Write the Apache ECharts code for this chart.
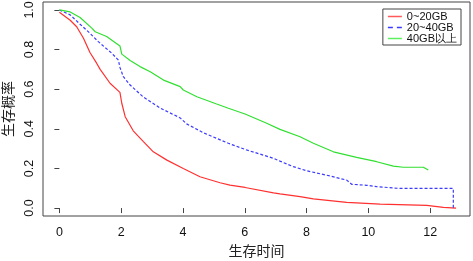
<!DOCTYPE html>
<html>
<head>
<meta charset="utf-8">
<script src="https://cdn.jsdelivr.net/npm/echarts@6/dist/echarts.min.js"></script>
<style>
  html, body { margin: 0; padding: 0; background: #fff; }
  #chart { width: 473px; height: 261px; }
</style>
</head>
<body>
<div id="chart"></div>
<script>
// 生存曲线数据
const seriesNames = ['0~20GB', '20~40GB', '40GB以上']

const redX = [0, 0.35, 0.56, 0.78, 0.99, 1.21, 1.32, 1.64, 1.96, 2.02, 2.13, 2.39, 2.72, 3.04, 3.48, 4.01, 4.55, 5.2, 5.52, 6.01, 6.93, 7.14, 7.79, 8.22, 9.30, 10.38, 11.89, 12.43, 12.84]
const redY = [0.988, 0.948, 0.915, 0.857, 0.785, 0.73, 0.70, 0.63, 0.584, 0.529, 0.461, 0.39, 0.335, 0.284, 0.242, 0.20, 0.158, 0.128, 0.116, 0.104, 0.077, 0.072, 0.058, 0.046, 0.029, 0.02, 0.014, 0.004, 0.0]

const blueX = [0, 0.35, 0.67, 0.99, 1.26, 1.70, 1.91, 1.96, 2.07, 2.29, 2.72, 3.26, 3.91, 4.12, 4.66, 5.47, 6.01, 6.93, 7.14, 7.57, 8.01, 8.76, 9.30, 9.46, 9.95, 10.27, 11.03, 12.75, 12.75]
const blueY = [1.0, 0.975, 0.928, 0.882, 0.84, 0.781, 0.747, 0.71, 0.663, 0.621, 0.56, 0.505, 0.455, 0.425, 0.38, 0.327, 0.296, 0.251, 0.237, 0.209, 0.188, 0.162, 0.141, 0.12, 0.115, 0.108, 0.099, 0.099, 0.0]

const greenX = [0, 0.35, 0.67, 1.05, 1.16, 1.53, 1.96, 2.02, 2.29, 2.61, 2.94, 3.37, 3.91, 4.01, 4.45, 5.09, 5.47, 6.01, 6.71, 7.14, 7.79, 8.22, 8.87, 9.62, 10.27, 10.81, 11.13, 11.78, 11.94]
const greenY = [1.0, 0.99, 0.962, 0.908, 0.89, 0.866, 0.818, 0.777, 0.745, 0.714, 0.688, 0.646, 0.613, 0.596, 0.562, 0.525, 0.504, 0.475, 0.428, 0.397, 0.36, 0.327, 0.284, 0.256, 0.234, 0.212, 0.206, 0.206, 0.192]

const xTicks = [0, 2, 4, 6, 8, 10, 12]
const yTicks = [0, 0.2, 0.4, 0.6, 0.8, 1.0]

const zip = (xs, ys) => xs.map((x, i) => [x, ys[i]])

const chart = echarts.init(document.getElementById('chart'), null, { renderer: 'canvas' })

const axisColor = '#444'
const numFont = 'Liberation Sans, Arial, sans-serif'
const cjkFont = 'Noto Sans CJK SC, sans-serif'

// 图例线段图标
const solidIcon = 'path://M0,0h14v1.5h-14z'
const dashIcon = 'path://M0,0h5v1.5h-5zM9,0h5v1.5h-5z'

const option = {
  animation: false,
  backgroundColor: '#fff',
  grid: {
    left: 43,
    right: 3,
    top: 2,
    bottom: 45,
    outerBoundsMode: 'none',
    containLabel: false,
    show: true,
    borderColor: axisColor,
    borderWidth: 1
  },
  legend: {
    data: [
      { name: seriesNames[0], icon: solidIcon, itemStyle: { color: '#ff5a5a' } },
      { name: seriesNames[1], icon: dashIcon, itemStyle: { color: '#3b3bff' } },
      { name: seriesNames[2], icon: solidIcon, itemStyle: { color: '#5ef05e' } }
    ],
    orient: 'vertical',
    right: 12,
    top: 9,
    padding: [2, 4, 1, 5],
    itemGap: 0,
    itemWidth: 14,
    itemHeight: 1.5,
    borderColor: axisColor,
    borderWidth: 1,
    borderRadius: 0,
    textStyle: {
      fontFamily: numFont,
      fontSize: 11,
      lineHeight: 11,
      color: '#111'
    }
  },
  xAxis: {
    type: 'value',
    min: -0.53,
    max: 13.29,
    name: '生存时间',
    nameLocation: 'middle',
    nameGap: 27,
    nameTextStyle: { fontFamily: cjkFont, fontSize: 14, color: '#222' },
    axisLine: { show: false },
    axisTick: { show: true, inside: false, length: 5, customValues: xTicks, lineStyle: { color: axisColor } },
    axisLabel: { customValues: xTicks, margin: 10, fontFamily: numFont, fontSize: 12.5, color: '#111' },
    splitLine: { show: false }
  },
  yAxis: {
    type: 'value',
    min: -0.04,
    max: 1.04,
    name: '生存概率',
    nameLocation: 'middle',
    nameGap: 28,
    nameTextStyle: { fontFamily: cjkFont, fontSize: 14, color: '#222' },
    axisLine: { show: false },
    axisTick: { show: true, inside: false, length: 5, customValues: yTicks, lineStyle: { color: axisColor } },
    axisLabel: {
      customValues: yTicks,
      rotate: 90,
      margin: 7,
      fontFamily: numFont,
      fontSize: 12.5,
      color: '#111',
      formatter: v => v.toFixed(1)
    },
    splitLine: { show: false }
  },
  series: [
    {
      name: seriesNames[0],
      type: 'line',
      data: zip(redX, redY),
      symbol: 'none',
      lineStyle: { color: '#ff3030', width: 1.2 },
      itemStyle: { color: '#ff3030' }
    },
    {
      name: seriesNames[1],
      type: 'line',
      data: zip(blueX, blueY),
      symbol: 'none',
      lineStyle: { color: '#3b3bff', width: 1.2, type: [3, 2] },
      itemStyle: { color: '#3b3bff' }
    },
    {
      name: seriesNames[2],
      type: 'line',
      data: zip(greenX, greenY),
      symbol: 'none',
      lineStyle: { color: '#30e030', width: 1.2 },
      itemStyle: { color: '#30e030' }
    }
  ]
}

chart.setOption(option)
</script>
</body>
</html>
